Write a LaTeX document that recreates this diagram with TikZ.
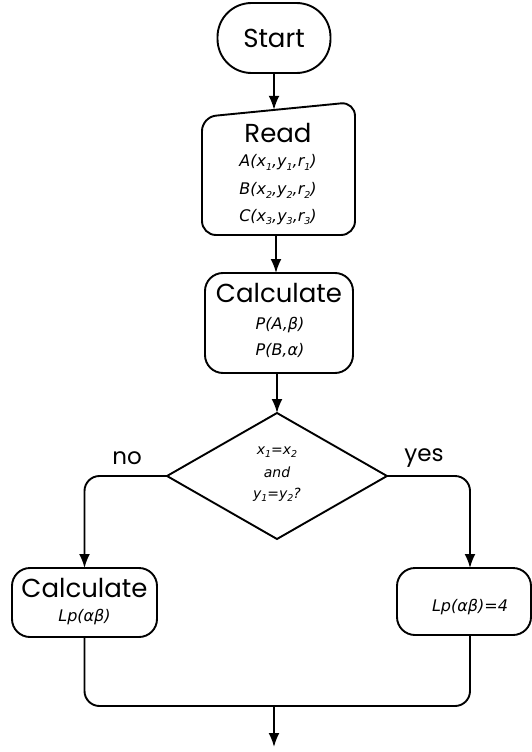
\documentclass[tikz,border=0pt]{standalone}
\usepackage{fontspec}
\setmainfont{Poppins}
\newfontfamily\fm{DejaVu Sans}
\usetikzlibrary{arrows.meta}
\newcommand\sbs[1]{\raisebox{-0.45ex}{\fontsize{9.5}{9.5}\selectfont #1}}
\tikzset{
  ln/.style={line width=1.9pt},
  arr/.style={ln,-{Latex[length=14pt,width=11pt]}},
  big/.style={font=\fontsize{26}{26}\selectfont, inner sep=0pt},
  frm/.style={font=\fm\itshape\fontsize{16}{16}\selectfont, inner sep=0pt},
  sml/.style={font=\fm\itshape\fontsize{14}{14}\selectfont, inner sep=0pt},
  boxr/.style={draw, ln, rounded corners=18pt, inner sep=0pt},
}
\begin{document}
\begin{tikzpicture}[x=1pt,y=-1pt]
\useasboundingbox (0,0) rectangle (532,752);
% Start
\node[draw, ln, rounded corners=34pt, minimum width=113pt, minimum height=70pt, big] (start) at (274,38) {Start};
% Read (manual input)
\coordinate (rtl) at (202,117);
\coordinate (rtr) at (355,102);
\coordinate (rbr) at (355,235);
\coordinate (rbl) at (202,235);
\draw[ln, rounded corners=14pt] (rtl) -- (rtr) -- (rbr) -- (rbl) -- cycle;
\coordinate (readtop) at (274,109.8);
\coordinate (readbot) at (276,235);
\node[big] (readt) at (278,133) {Read};
\node[frm] (ra) at (278,162) {A(x\sbs{1},y\sbs{1},r\sbs{1})};
\node[frm] (rb) at (278,190) {B(x\sbs{2},y\sbs{2},r\sbs{2})};
\node[frm] (rc) at (278,217) {C(x\sbs{3},y\sbs{3},r\sbs{3})};
% Calculate
\node[boxr, minimum width=148pt, minimum height=100pt] (calc) at (279,323) {};
\node[big] (calct) at (279,293) {Calculate};
\node[frm] (pa) at (280,325) {P(A,β)};
\node[frm] (pb) at (280,350) {P(B,α)};
\coordinate (calctop) at (276,273);
\coordinate (calcbot) at (277,373);
% Decision
\coordinate (dt) at (277,413);
\coordinate (dl) at (167,476);
\coordinate (dr) at (387,476);
\coordinate (db) at (277,539);
\draw[ln, line join=miter] (dt) -- (dr) -- (db) -- (dl) -- cycle;
\node[sml] (d1) at (277,452) {x\sbs{1}=x\sbs{2}};
\node[sml] (d2) at (277,472) {and};
\node[sml] (d3) at (277,495) {y\sbs{1}=y\sbs{2}?};
\node[font=\fontsize{23}{23}\selectfont, inner sep=0pt] (no) at (127,458) {no};
\node[font=\fontsize{23}{23}\selectfont, inner sep=0pt] (yes) at (424,458) {yes};
% Left box
\node[boxr, minimum width=145pt, minimum height=69pt] (lbox) at (84.5,602.5) {};
\node[big] (lt) at (84.5,588) {Calculate};
\node[frm] (lf) at (84.5,617) {Lp(αβ)};
% Right box
\node[boxr, minimum width=134pt, minimum height=67pt] (rbox) at (464,601.5) {};
\node[frm] (rf) at (470,607) {Lp(αβ)=4};
\coordinate (rboxtop) at (470,568);
\coordinate (rboxbot) at (470,635);
\coordinate (lboxtop) at (84.5,568);
% connectors
\draw[arr] (start.south) -- (readtop);
\draw[arr] (readbot) -- (calctop);
\draw[arr] (calcbot) -- (dt);
\draw[arr, rounded corners=15pt] (dl) -| (lboxtop);
\draw[arr, rounded corners=15pt] (dr) -| (rboxtop);
\coordinate (merge) at (274,706);
\coordinate (endp) at (274,747);
\draw[ln, rounded corners=15pt] (lbox.south) |- (merge) -| (rboxbot);
\draw[arr] (merge) -- (endp);
\end{tikzpicture}
\end{document}
